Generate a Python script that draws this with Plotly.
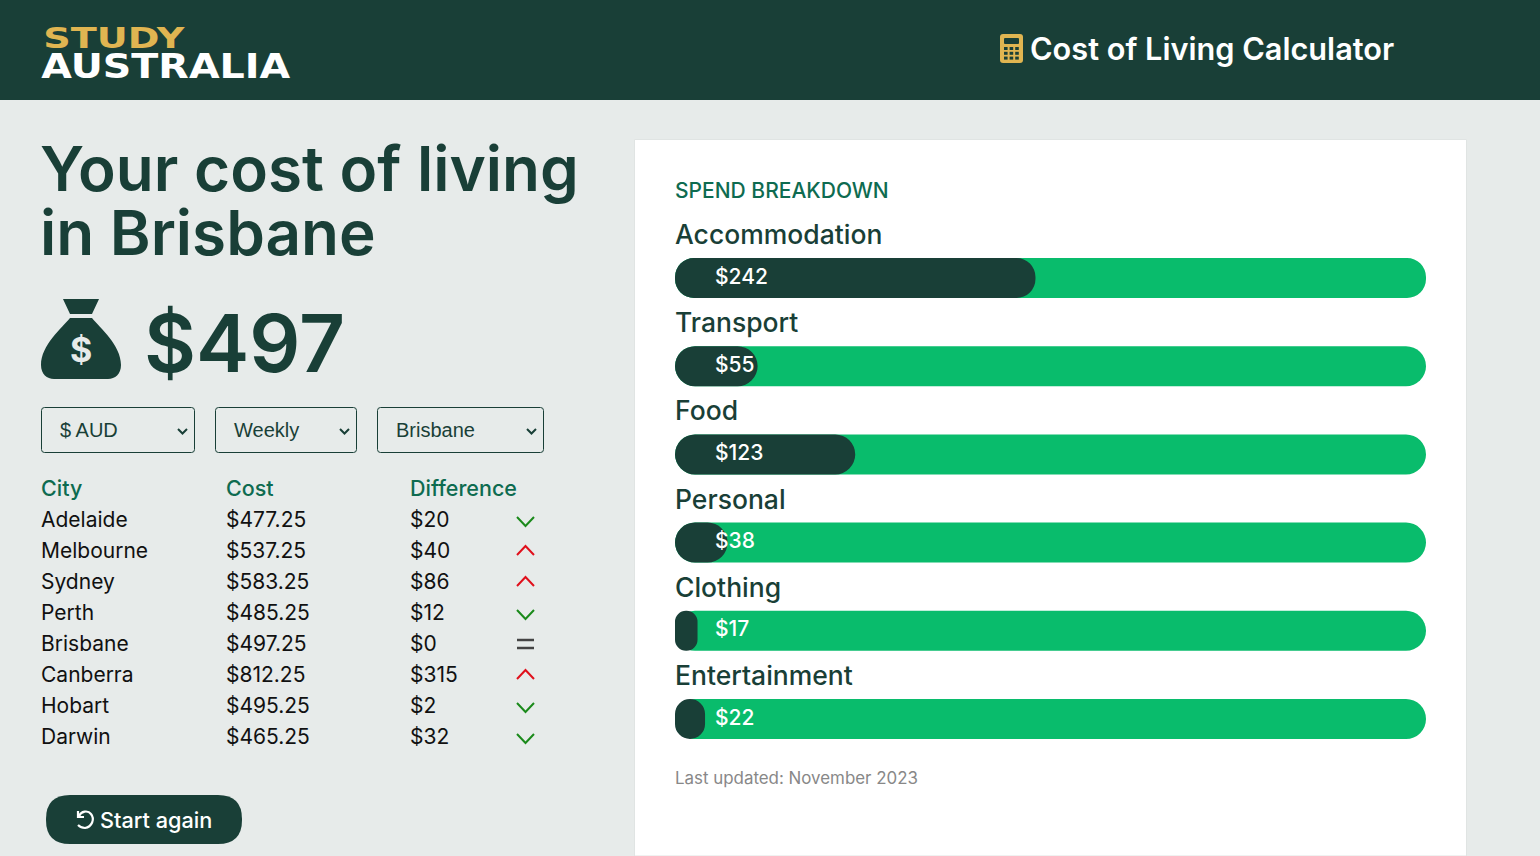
import plotly.graph_objects as go

# spend breakdown
categories = ['Accommodation', 'Transport', 'Food', 'Personal', 'Clothing', 'Entertainment']
spend_labels = ['$242', '$55', '$123', '$38', '$17', '$22']
spend_share = [48, 11, 24, 7, 3, 4]
track = [100, 100, 100, 100, 100, 100]

# city table
cities = ['Adelaide', 'Melbourne', 'Sydney', 'Perth', 'Brisbane', 'Canberra', 'Hobart', 'Darwin']
costs = ['$477.25', '$537.25', '$583.25', '$485.25', '$497.25', '$812.25', '$495.25', '$465.25']
differences = ['$20', '$40', '$86', '$12', '$0', '$315', '$2', '$32']
directions = ['down', 'up', 'up', 'down', 'same', 'up', 'down', 'down']
table_header = ['City', 'Cost', 'Difference']

selects = ['$ AUD', 'Weekly', 'Brisbane']

WIDTH = 1540
HEIGHT = 856
DARK = '#193F37'
GREEN = '#09BC6C'
GOLD = '#E0B551'
PAGE = '#E7EBEA'
TEAL = '#0E6B50'
FONT = 'Inter'


def frac_y(y):
    return (HEIGHT - y) / HEIGHT


def rounded(x0, y0, x1, y1, r):
    return (f'M {x0 + r} {y0} L {x1 - r} {y0} Q {x1} {y0} {x1} {y0 + r} '
            f'L {x1} {y1 - r} Q {x1} {y1} {x1 - r} {y1} L {x0 + r} {y1} '
            f'Q {x0} {y1} {x0} {y1 - r} L {x0} {y0 + r} Q {x0} {y0} {x0 + r} {y0} Z')


fig = go.Figure()

# bars, base set explicitly so plotly rounds both ends
fig.add_trace(go.Bar(y=categories, x=track, base=0, orientation='h', width=0.4535,
                     marker=dict(color=GREEN, cornerradius=20, line_width=0),
                     hoverinfo='skip'))
fig.add_trace(go.Bar(y=categories, x=spend_share, base=0, orientation='h', width=0.4535,
                     marker=dict(color=DARK, cornerradius=20, line_width=0),
                     hoverinfo='skip'))

# city table
fig.add_trace(go.Table(
    domain=dict(x=[33 / WIDTH, 600 / WIDTH], y=[frac_y(760), frac_y(472)]),
    columnwidth=[185, 184, 198],
    header=dict(values=table_header, height=31, align='left',
                fill_color='rgba(0,0,0,0)', line_color='rgba(0,0,0,0)',
                font=dict(family=FONT, size=21.5, color=TEAL, weight=500)),
    cells=dict(values=[cities, costs, differences], height=31, align='left',
               fill_color='rgba(0,0,0,0)', line_color='rgba(0,0,0,0)',
               font=dict(family=FONT, size=21, color='#111111')),
))

shapes = [
    dict(type='rect', xref='paper', yref='paper', x0=0, x1=1, y0=frac_y(100), y1=1,
         fillcolor=DARK, line_width=0, layer='below'),
    dict(type='rect', xref='paper', yref='paper', x0=634.5 / WIDTH, x1=1466.5 / WIDTH, y0=0, y1=frac_y(139.5),
         fillcolor='white', line=dict(color='#E0E4E3', width=1), layer='below'),
]


def page_shape(path, fill=None, line=None, width=0):
    shapes.append(dict(type='path', xref='x2', yref='y2', path=path,
                       fillcolor=fill if fill else 'rgba(0,0,0,0)',
                       line=dict(color=line if line else 'rgba(0,0,0,0)', width=width)))


# money bag
page_shape('M 63 299 L 99 299 L 92 314 L 70 314 Z', fill=DARK)
page_shape('M 70 318 L 92 318 C 100 328 121 345 121 365 C 121 374 115 379 108 379 '
           'L 54 379 C 47 379 41 374 41 365 C 41 345 62 328 70 318 Z', fill=DARK)

# calculator
page_shape(rounded(1000, 34, 1023, 63, 3), fill=GOLD)
page_shape(rounded(1004, 38, 1019, 44, 1), fill=DARK)
for row in range(3):
    for col in range(3):
        cx = 1004 + col * 5.6
        cy = 47 + row * 4.8
        page_shape(f'M {cx} {cy} L {cx + 3.6} {cy} L {cx + 3.6} {cy + 3} L {cx} {cy + 3} Z', fill=DARK)

# select boxes
select_boxes = [(41, 195), (215, 357), (377, 544)]
for x0, x1 in select_boxes:
    page_shape(rounded(x0 + 0.5, 407.5, x1 - 0.5, 452.5, 3), line=DARK, width=1)
    page_shape(f'M {x1 - 17} 429 L {x1 - 12.5} 433.5 L {x1 - 8} 429', line=DARK, width=2)

# difference icons
for i, direction in enumerate(directions):
    yc = 519 + 31 * i
    if direction == 'up':
        page_shape(f'M 517 {yc + 5} L 525.5 {yc - 4} L 534 {yc + 5}', line='#E0101C', width=2)
    elif direction == 'down':
        page_shape(f'M 517 {yc - 2} L 525.5 {yc + 7} L 534 {yc - 2}', line='#1B8A1B', width=2)
    else:
        page_shape(f'M 517 {yc - 3} L 534 {yc - 3}', line='#444444', width=2.5)
        page_shape(f'M 517 {yc + 5} L 534 {yc + 5}', line='#444444', width=2.5)

# start again button
page_shape(rounded(46, 795, 242, 844, 24), fill=DARK)
page_shape('M 79 816 C 81 811 88 810 91 814 C 95 819 92 827 85 828 C 82 828 80 827 78 825',
           line='white', width=2.2)
page_shape('M 78 811 L 78 817 L 84 817', line='white', width=2.2)

annotations = []


def page_text(x, y, text, size, color, weight=400, family=FONT, anchor='left'):
    annotations.append(dict(xref='x2', yref='y2', x=x, y=y, text=text, showarrow=False,
                            xanchor=anchor, yanchor='middle', borderpad=0,
                            font=dict(family=family, size=size, color=color, weight=weight)))


page_text(114.5, 38, 'STUDY', 27.5, GOLD, 700, 'DejaVu Sans', anchor='center')
page_text(166, 66, 'AUSTRALIA', 33, 'white', 700, 'DejaVu Sans', anchor='center')
page_text(1029, 48, 'Cost of Living Calculator', 30.7, 'white', 600)
page_text(39, 168, 'Your cost of living', 62, DARK, 600)
page_text(39, 232, 'in Brisbane', 62, DARK, 600)
page_text(143, 342, '$497', 80, DARK, 600)
page_text(81, 349, '$', 34, PAGE, 700, anchor='center')
for (x0, _), name in zip(select_boxes, selects):
    page_text(x0 + 18, 430, name, 20, DARK, family='Liberation Sans')
page_text(99, 820, 'Start again', 21.7, 'white', 500)
page_text(674, 190, 'SPEND BREAKDOWN', 21, TEAL, 500)
page_text(674, 778, 'Last updated: November 2023', 16.9, '#888888')

# labels attached to the bars
for name, value in zip(categories, spend_labels):
    annotations.append(dict(xref='x', yref='y', x=0, y=name, text=name, showarrow=False,
                            xanchor='left', yanchor='middle', xshift=-1, yshift=44, borderpad=0,
                            font=dict(family=FONT, size=26.5, color=DARK, weight=500)))
    annotations.append(dict(xref='x', yref='y', x=0, y=name, text=value, showarrow=False,
                            xanchor='left', yanchor='middle', xshift=39, yshift=2, borderpad=0,
                            font=dict(family=FONT, size=21, color='white', weight=500)))

fig.update_layout(
    width=WIDTH,
    height=HEIGHT,
    margin=dict(l=0, r=0, t=0, b=0),
    paper_bgcolor=PAGE,
    plot_bgcolor='rgba(0,0,0,0)',
    barmode='overlay',
    showlegend=False,
    shapes=shapes,
    annotations=annotations,
    xaxis=dict(domain=[675 / WIDTH, 1426 / WIDTH], range=[0, 100], visible=False, fixedrange=True),
    yaxis=dict(domain=[frac_y(763.1), frac_y(233.9)], type='category', categoryarray=categories,
               range=[5.5, -0.5], visible=False, fixedrange=True),
    xaxis2=dict(domain=[0, 1], range=[0, WIDTH], visible=False, fixedrange=True, anchor='y2'),
    yaxis2=dict(domain=[0, 1], range=[HEIGHT, 0], visible=False, fixedrange=True, anchor='x2'),
)
# empty trace so the page axes exist
fig.add_trace(go.Scatter(x=[], y=[], xaxis='x2', yaxis='y2', hoverinfo='skip'))

# the logo face is wider than any installed font, so stretch those two words
post_script = """
document.body.style.margin='0';document.body.style.overflow='hidden';
document.querySelectorAll('.annotation-text').forEach(function(t){
  var w={'STUDY':141,'AUSTRALIA':249}[t.textContent];
  if(w){t.setAttribute('textLength',w);t.setAttribute('lengthAdjust','spacingAndGlyphs');}
});
"""
fig.write_html("out.html", config=dict(displayModeBar=False), post_script=post_script)
